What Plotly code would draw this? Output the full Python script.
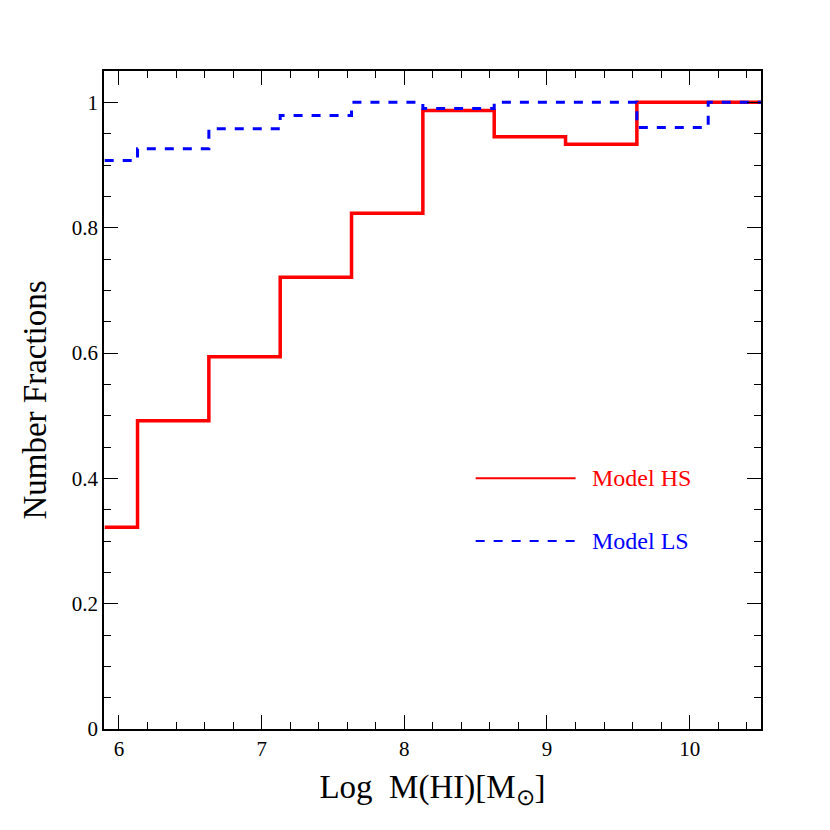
import plotly.graph_objects as go

# bin start edges (log M_HI) and the final right edge
bin_starts = [5.9, 6.13, 6.63, 7.13, 7.63, 8.13, 8.63, 9.13, 9.63, 10.13]
right_edge = 10.5
model_hs = [0.322, 0.492, 0.594, 0.721, 0.823, 0.987, 0.945, 0.933, 1.0, 1.0]
model_ls = [0.907, 0.926, 0.958, 0.979, 1.0, 0.99, 1.0, 1.0, 0.96, 1.0]

FONT = "Liberation Serif"

fig = go.Figure()
xs = bin_starts + [right_edge]
fig.add_trace(go.Scatter(x=xs, y=model_hs + [model_hs[-1]], mode="lines", line_shape="hv",
                         line=dict(color="#ff0000", width=3.5), name="Model HS"))
fig.add_trace(go.Scatter(x=xs, y=model_ls + [model_ls[-1]], mode="lines", line_shape="hv",
                         line=dict(color="#0000ff", width=3, dash="dash"), name="Model LS"))

# legend drawn by hand like the original
for yv, col, dash, txt in [(0.4, "#ff0000", "solid", "Model HS"), (0.3, "#0000ff", "dash", "Model LS")]:
    fig.add_shape(type="line", x0=8.5, x1=9.2, y0=yv, y1=yv, line=dict(color=col, width=2, dash=dash))
    fig.add_annotation(x=9.3, y=yv, text=txt, showarrow=False, xanchor="left",
                       font=dict(color=col, size=24, family=FONT))

axis_common = dict(showgrid=False, zeroline=False, showline=True, linecolor="black", linewidth=1.5,
                   mirror="ticks", ticks="inside", ticklen=14, tickcolor="black",
                   tickfont=dict(size=21, family=FONT, color="black"))
fig.update_xaxes(range=[5.895, 10.5], tick0=6, dtick=1,
                 minor=dict(ticks="inside", ticklen=7, dtick=0.2, tick0=6, tickcolor="black"),
                 title=dict(text="Log  M(HI)[M<sub>⊙</sub>]", font=dict(size=33, family=FONT, color="black")),
                 **axis_common)
fig.update_yaxes(range=[0, 1.05], tick0=0, dtick=0.2,
                 minor=dict(ticks="inside", ticklen=7, dtick=0.05, tick0=0, tickcolor="black"),
                 title=dict(text="Number Fractions", font=dict(size=33, family=FONT, color="black")),
                 **axis_common)
fig.update_layout(width=830, height=830, showlegend=False, plot_bgcolor="white", paper_bgcolor="white",
                  margin=dict(l=96, r=77, t=63, b=109))
fig.write_html("out.html")
